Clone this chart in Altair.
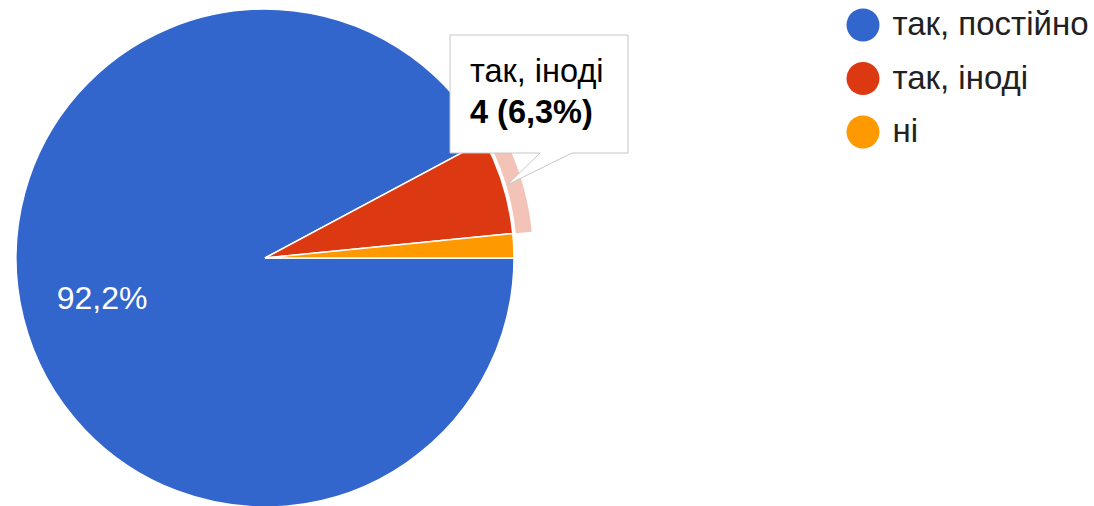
import math
from decimal import Decimal, ROUND_HALF_UP
import altair as alt
import pandas as pd

# ---- data ----
categories = ["так, постійно", "так, іноді", "ні"]
counts = [59, 4, 1]
colors = ["#3366cc", "#dc3912", "#ff9900"]
highlighted = "так, іноді"

total = sum(counts)


def fmt_pct(c):
    v = (Decimal(c) * 100 / Decimal(total)).quantize(Decimal("0.1"), rounding=ROUND_HALF_UP)
    return f"{v}%".replace(".", ",")


pcts = [c / total * 100 for c in counts]
labels = [fmt_pct(c) if p > 10 else "" for c, p in zip(counts, pcts)]

df = pd.DataFrame({
    "category": categories,
    "count": counts,
    "order": list(range(len(categories))),
    "label": labels,
})

hi = categories.index(highlighted)
tip_df = pd.DataFrame({
    "line": [highlighted, f"{counts[hi]} ({fmt_pct(counts[hi])})"],
    "row": [0, 1],
})

FONT = "Liberation Sans, Arial, sans-serif"
CX, CY, R = 265, 258, 249

theta = alt.Theta("count:Q", stack=True,
                  scale=alt.Scale(range=[math.pi / 2, math.pi / 2 + 2 * math.pi]))
order = alt.Order("order:Q")
color = alt.Color(
    "category:N",
    scale=alt.Scale(domain=categories, range=colors),
    legend=alt.Legend(
        orient="none", legendX=846.5, legendY=8.5, title=None,
        symbolType="circle", symbolSize=1089, symbolStrokeWidth=0,
        symbolOpacity=1, labelFontSize=33, labelFont=FONT,
        labelColor="#212121", labelOffset=13, rowPadding=19.5, padding=0,
        labelLimit=400,
    ),
)

base = alt.Chart(df)

pie = base.mark_arc(radius=R, x=CX, y=CY, stroke="white", strokeWidth=1.5).encode(
    theta=theta, color=color, order=order
)

ring = base.mark_arc(radius=268, radius2=252, x=CX, y=CY).encode(
    theta=theta, color=color, order=order,
    opacity=alt.condition(alt.datum.category == highlighted, alt.value(0.3), alt.value(0)),
)

label = base.mark_text(radius=168, x=CX, y=CY, fontSize=32, font=FONT,
                       color="white").encode(theta=theta, text="label:N", order=order)

# tooltip callout (box + pointer) drawn as one path, origin at box top-left
callout_path = "M0,0 H178 V118 H122 L57,150 L90,118 H0 Z"
callout = alt.Chart(pd.DataFrame({"k": [0]})).mark_point(
    shape=callout_path, size=4, filled=True, fill="white", stroke="#c6c6c6",
    strokeWidth=1, opacity=1
).encode(x=alt.value(450), y=alt.value(35))

tip1 = alt.Chart(tip_df).transform_filter("datum.row == 0").mark_text(
    align="left", baseline="alphabetic", fontSize=32.5, font=FONT, color="#000000"
).encode(x=alt.value(470), y=alt.value(82), text="line:N")

tip2 = alt.Chart(tip_df).transform_filter("datum.row == 1").mark_text(
    align="left", baseline="alphabetic", fontSize=32.5, font=FONT, fontWeight="bold",
    color="#000000"
).encode(x=alt.value(470), y=alt.value(123), text="line:N")

chart = alt.layer(ring, pie, label, callout, tip1, tip2).properties(
    width=1094, height=506,
    autosize=alt.AutoSizeParams(type="none"),
    padding=0,
    background="white",
).configure_view(stroke=None)

chart.save("out.html", embed_options={"renderer": "svg", "actions": False})
